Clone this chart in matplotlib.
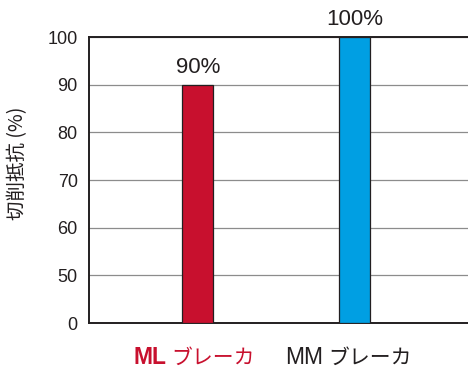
import matplotlib
matplotlib.use("Agg")
import numpy as np
import matplotlib.pyplot as plt
from matplotlib.offsetbox import TextArea, HPacker, AnnotationBbox

plt.rcParams['font.family'] = ['Noto Sans CJK JP', 'DejaVu Sans']

categories = ["ML", "MM"]
suffix = "ブレーカ"
values = [90, 100]
value_labels = ["90%", "100%"]
bar_colors = ["#c8102e", "#009fe3"]
label_colors = ["#c8102e", "#231f20"]
yticks = [0, 50, 60, 70, 80, 90, 100]
ylabel = "切削抵抗 (%)"

TEXT = "#231f20"


# broken axis: 0-50 squeezed into one step, 50-100 in steps of 10
def fwd(v):
    v = np.asarray(v, dtype=float)
    return np.where(v <= 50, v / 50.0, 1.0 + (v - 50.0) / 10.0)


def inv(p):
    p = np.asarray(p, dtype=float)
    return np.where(p <= 1, p * 50.0, 50.0 + (p - 1.0) * 10.0)


fig = plt.figure(figsize=(4.68, 3.72), dpi=100)
ax = fig.add_axes([0.190, 0.1317, 0.812, 0.7688])
ax.set_yscale("function", functions=(fwd, inv))
ax.set_ylim(0, 100)
ax.set_xlim(-0.693, 1.728)

x = list(range(len(categories)))
ax.bar(x, values, width=0.198, color=bar_colors, edgecolor=TEXT,
       linewidth=0.9, zorder=3)

for xi, v, lab in zip(x, values, value_labels):
    ax.annotate(lab, (xi, v), xytext=(0, 5), textcoords="offset points",
                ha="center", va="bottom", fontsize=16, color=TEXT,
                family="Liberation Sans", annotation_clip=False)

ax.set_yticks(yticks)
ax.set_yticklabels([str(t) for t in yticks], family="Liberation Sans")
ax.tick_params(axis="y", length=0, pad=8, labelsize=13, labelcolor=TEXT)
ax.tick_params(axis="x", length=0, labelbottom=False)
ax.grid(axis="y", color="#8c8c8c", linewidth=0.9, zorder=1)
ax.set_axisbelow(True)

for side in ("left", "top", "bottom"):
    ax.spines[side].set_color(TEXT)
    ax.spines[side].set_linewidth(1.4)
ax.spines["right"].set_visible(False)

ax.set_ylabel(ylabel, fontsize=14, color=TEXT)
ax.yaxis.set_label_coords(-0.16, 0.56)

# category labels: bold code + katakana suffix
offsets = [-3.5, -6]
for i, (cat, col) in enumerate(zip(categories, label_colors)):
    bold = (i == 0)
    parts = [
        TextArea(cat, textprops=dict(color=col, fontsize=16.5,
                                     family="Liberation Sans",
                                     fontweight="bold" if bold else "normal")),
        TextArea(suffix, textprops=dict(color=col, fontsize=15,
                                        family="Noto Sans CJK JP")),
    ]
    box = HPacker(children=parts, align="baseline", pad=0, sep=4)
    ab = AnnotationBbox(box, (x[i], 0), xycoords=("data", "axes fraction"),
                        xybox=(offsets[i], -34), boxcoords="offset pixels",
                        frameon=False, box_alignment=(0.5, 0.5),
                        annotation_clip=False)
    ax.add_artist(ab)

fig.savefig("out.png", dpi=100)
